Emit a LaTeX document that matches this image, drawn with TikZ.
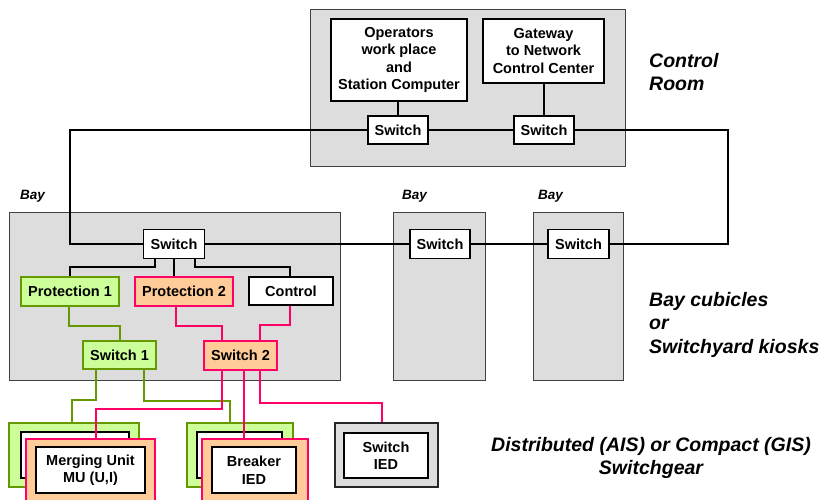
\documentclass[tikz,border=0pt]{standalone}
\usepackage{fontspec}
\setmainfont{Liberation Sans}
\usetikzlibrary{positioning}

\definecolor{grnfill}{RGB}{204,255,153}
\definecolor{grnline}{RGB}{102,153,0}
\definecolor{orgfill}{RGB}{255,204,153}
\definecolor{pnkline}{RGB}{255,0,102}
\definecolor{cubicle}{RGB}{221,221,221}

\tikzset{
  cubiclebox/.style={draw=black!75, fill=cubicle, line width=0.9pt},
  dev/.style={draw, fill=white, line width=1.4pt, inner sep=0pt, align=center,
    font=\bfseries\fontsize{14.5}{17.5}\selectfont},
  swbox/.style={dev, minimum width=61, minimum height=29},
  grndev/.style={dev, draw=grnline, fill=grnfill, line width=1.7pt},
  orgdev/.style={dev, draw=pnkline, fill=orgfill, line width=1.7pt},
  area/.style={font=\bfseries\itshape\fontsize{19.5}{23.5}\selectfont, inner sep=0pt},
  baylabel/.style={font=\bfseries\itshape\fontsize{13.5}{16}\selectfont, inner sep=0pt, anchor=north west},
  wire/.style={line width=1.7pt},
  gwire/.style={line width=2pt, draw=grnline},
  pwire/.style={line width=2pt, draw=pnkline}
}

\begin{document}
\begin{tikzpicture}[x=1pt, y=-1pt, line join=miter]
  \useasboundingbox (0,0) rectangle (819,499);
  \clip (0,0) rectangle (819,499);

  % control room
  \draw[cubiclebox] (310,9) rectangle (625,166);
  \node[dev, minimum width=136, minimum height=82] (opw) at (399,60)
    {Operators\\work place\\and\\Station Computer};
  \node[dev, minimum width=121, minimum height=64] (gw) at (543.5,51)
    {Gateway\\to Network\\Control Center};
  \node[swbox, minimum width=60, minimum height=28] (swcr1) at (398,130) {Switch};
  \node[swbox, minimum width=60, minimum height=28] (swcr2) at (544,130) {Switch};
  \node[area, anchor=north west, align=left] (lblcr) at (649,53) {Control\\Room};

  % bay cubicles
  \draw[cubiclebox] (9,212) rectangle (340,380);
  \draw[cubiclebox] (393,212) rectangle (485,380);
  \draw[cubiclebox] (533,212) rectangle (623,380);
  \node[baylabel] (lblb1) at (20,190) {Bay};
  \node[baylabel] (lblb2) at (402,190) {Bay};
  \node[baylabel] (lblb3) at (538,190) {Bay};
  \node[area, anchor=north west, align=left] (lblbay) at (649,292)
    {Bay cubicles\\or\\Switchyard kiosks};

  \node[swbox] (swb1) at (174,244) {Switch};
  \node[swbox, minimum width=60] (swb2) at (440,244) {Switch};
  \node[swbox] (swb3) at (578.5,244) {Switch};

  \node[grndev, minimum width=98, minimum height=29] (prot1) at (70,291.5) {Protection 1};
  \node[orgdev, minimum width=98, minimum height=29] (prot2) at (184,291.5) {Protection 2};
  \node[dev, minimum width=84, minimum height=28] (ctrl) at (291,291) {Control};
  \node[grndev, minimum width=73, minimum height=28] (sw1) at (119.5,355) {Switch 1};
  \node[orgdev, minimum width=73, minimum height=29] (sw2) at (240.5,355.5) {Switch 2};

  % station ring
  \coordinate (ringL) at (70,130);
  \coordinate (ringR) at (728,130);
  \draw[wire] (opw.south -| swcr1) -- (swcr1);
  \draw[wire] (gw.south -| swcr2) -- (swcr2);
  \draw[wire] (swcr1) -- (swcr2);
  \draw[wire] (swcr1.west) -- (ringL) |- (swb1.west);
  \draw[wire] (swcr2.east) -- (ringR) |- (swb3.east);
  \draw[wire] (swb1.east) -- (swb2.west);
  \draw[wire] (swb2.east) -- (swb3.west);

  % bay bus
  \draw[wire] ([xshift=-19]swb1.south) -- ++(0,8) -| (prot1.north);
  \draw[wire] (swb1.south) -- (swb1.south |- prot2.north);
  \draw[wire] ([xshift=21]swb1.south) -- ++(0,8) -| ([xshift=-1]ctrl.north);
  \draw[gwire] ([xshift=-1]prot1.south) -- ++(0,19) -| (sw1.north);
  \draw[pwire] ([xshift=-8]prot2.south) -- ++(0,19) -| ([xshift=-19]sw2.north);
  \draw[pwire] ([xshift=-1]ctrl.south) -- ++(0,19) -| ([xshift=19]sw2.north);

  % switchgear
  \node[grndev, minimum width=130, minimum height=64] (dev1) at (74,455) {};
  \node[dev, minimum width=108, minimum height=46] (dev1in) at (75,455) {};
  \node[orgdev, minimum width=129, minimum height=64] (mu) at (90.5,471) {};
  \node[dev, minimum width=109, minimum height=46] (muin) at (90.5,470) {Merging Unit\\MU (U,I)};
  \node[grndev, minimum width=106, minimum height=64] (dev2) at (240,455) {};
  \node[dev, minimum width=85, minimum height=46] (dev2in) at (239.5,455) {};
  \node[orgdev, minimum width=106, minimum height=64] (brk) at (255,471) {};
  \node[dev, minimum width=84, minimum height=46] (brkin) at (254,470) {Breaker\\IED};
  \node[dev, fill=cubicle, draw=black!85, line width=2pt, minimum width=103, minimum height=64] (swied) at (386.5,455) {};
  \node[dev, minimum width=84, minimum height=45] (swiedin) at (386,455.5) {Switch\\IED};
  \node[area, anchor=north, align=center] (lblsg) at (651,437)
    {Distributed (AIS) or Compact (GIS)\\Switchgear};

  \draw[gwire] ([xshift=-24]sw1.south) -- ++(0,30) -| ([xshift=-2]dev1.north);
  \draw[gwire] ([xshift=24]sw1.south) -- ++(0,31) -| ([xshift=-10]dev2.north);
  \draw[pwire] ([xshift=-19]sw2.south) -- ++(0,38) -| ([xshift=5.5]mu.north);
  \draw[pwire] ([xshift=3.5]sw2.south) -- ([xshift=3.5]sw2.south |- brk.north);
  \draw[pwire] ([xshift=19]sw2.south) -- ++(0,32) -| ([xshift=-4.5]swied.north);
\end{tikzpicture}
\end{document}
